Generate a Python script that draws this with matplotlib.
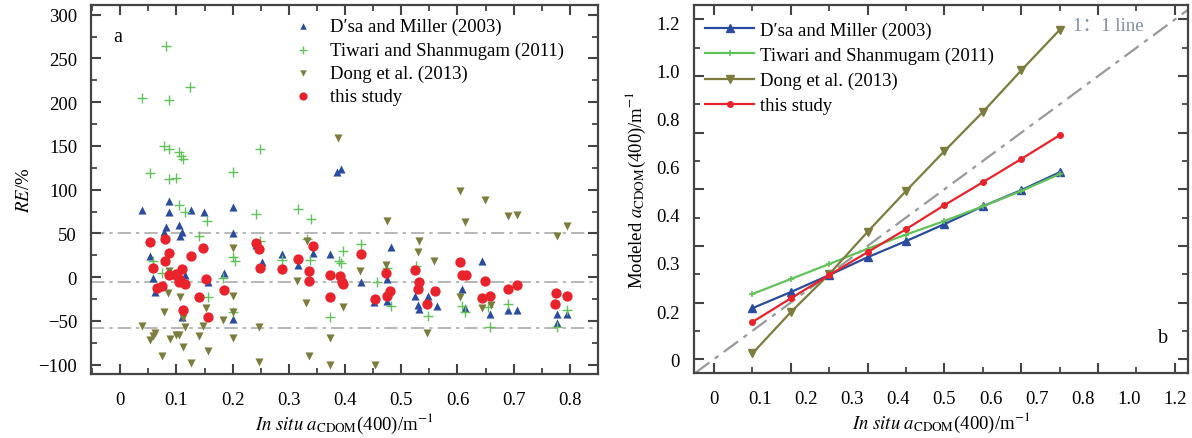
import numpy as np
import matplotlib
matplotlib.use("Agg")
import matplotlib.pyplot as plt
from matplotlib.ticker import MultipleLocator

plt.rcParams['font.family'] = ['Liberation Serif', 'DejaVu Serif']
plt.rcParams['mathtext.fontset'] = 'stix'

# ---------------- Panel a data: relative error (RE, %) vs in situ aCDOM(400)
dsa_x = [0.039, 0.087, 0.086, 0.126, 0.149, 0.200, 0.081, 0.078, 0.104, 0.110, 0.107, 0.200,
         0.053, 0.058, 0.062, 0.116, 0.157, 0.184, 0.200, 0.110, 0.241, 0.252, 0.288, 0.317,
         0.343, 0.373, 0.428, 0.482, 0.475, 0.452, 0.474, 0.524, 0.530, 0.532, 0.547, 0.564,
         0.608, 0.613, 0.643, 0.658, 0.690, 0.706, 0.777, 0.777, 0.795, 0.386, 0.392]
dsa_y = [77, 87, 75, 77, 74, 80, 57, 52, 60, 52, 47, 50,
         24, -1, -17, 2, -6, 5, -48, -45, 37, 17, 26, 14,
         28, 26, -5, 34, -2, -28, -27, -21, -32, -36, -21, -33,
         -13, -35, 19, -42, -37, -37, -52, -42, -42, 120, 124]

tiw_x = [0.082, 0.039, 0.087, 0.124, 0.078, 0.087, 0.105, 0.108, 0.111, 0.249, 0.053, 0.200,
         0.087, 0.100, 0.105, 0.116, 0.241, 0.317, 0.154, 0.141, 0.059, 0.074, 0.200, 0.204,
         0.157, 0.183, 0.200, 0.249, 0.288, 0.339, 0.332, 0.338, 0.396, 0.389, 0.393, 0.428,
         0.457, 0.475, 0.482, 0.373, 0.527, 0.547, 0.608, 0.613, 0.655, 0.658, 0.690, 0.777,
         0.795]
tiw_y = [264, 205, 203, 217, 150, 147, 143, 138, 135, 147, 119, 120,
         112, 113, 83, 74, 72, 78, 64, 47, 18, 5, 23, 19,
         -23, -1, -40, 41, 20, 67, 44, 20, 30, 18, 16, 38,
         -6, 11, -33, -46, 13, -44, -33, -40, -34, -57, -31, -57,
         -38]

dong_x = [0.039, 0.053, 0.059, 0.062, 0.074, 0.078, 0.085, 0.089, 0.099, 0.104, 0.107, 0.111,
          0.111, 0.116, 0.126, 0.141, 0.148, 0.153, 0.157, 0.183, 0.200, 0.200, 0.200, 0.200,
          0.247, 0.247, 0.087, 0.388, 0.604, 0.649, 0.613, 0.690, 0.706, 0.475, 0.532, 0.530,
          0.558, 0.332, 0.315, 0.331, 0.396, 0.373, 0.427, 0.473, 0.336, 0.373, 0.453, 0.546,
          0.643, 0.659, 0.777, 0.795, 0.604]
dong_y = [-56, -72, -67, -64, -90, -40, -18, -71, -66, -66, -23, -47,
          -80, -57, -98, -67, -56, -35, -84, -49, -21, -70, -40, 33,
          -57, -97, 7, 159, 98, 88, 63, 70, 71, 64, 41, 29,
          19, 41, -4, -30, -34, -69, 7, 14, -90, -100, -100, -64,
          -35, -32, 47, 58, -23]

this_x = [0.053, 0.059, 0.080, 0.087, 0.080, 0.087, 0.065, 0.074, 0.110, 0.101, 0.107, 0.116,
          0.126, 0.148, 0.153, 0.141, 0.111, 0.157, 0.185, 0.241, 0.247, 0.249, 0.288, 0.317,
          0.336, 0.336, 0.343, 0.373, 0.373, 0.391, 0.394, 0.396, 0.428, 0.453, 0.473, 0.474,
          0.480, 0.524, 0.532, 0.530, 0.546, 0.560, 0.604, 0.608, 0.615, 0.649, 0.643, 0.658,
          0.690, 0.706, 0.775, 0.773, 0.795, 0.104, 0.100]
this_y = [40, 10, 44, 28, 18, 2, -12, -10, 9, 1, -3, -8,
          24, 33, -2, -23, -37, -46, -15, 39, 32, 11, 9, 21,
          7, -4, 36, 2, -23, 1, -5, -8, 26, -25, 5, -21,
          -16, 8, -5, -14, -31, -16, 17, 3, 2, -4, -24, -21,
          -13, -9, -18, -31, -21, -6, 4]

ref_levels = [50, -6, -58]

# ---------------- Panel b data: modeled vs in situ aCDOM(400)
b_x = [0.1, 0.2, 0.3, 0.4, 0.5, 0.6, 0.7, 0.8, 0.9]
b_dsa = [0.180, 0.237, 0.297, 0.360, 0.417, 0.477, 0.540, 0.597, 0.660]
b_tiw = [0.230, 0.283, 0.336, 0.390, 0.440, 0.488, 0.540, 0.594, 0.654]
b_dong = [0.020, 0.166, 0.300, 0.450, 0.594, 0.735, 0.873, 1.020, 1.163]
b_this = [0.131, 0.215, 0.297, 0.378, 0.459, 0.544, 0.625, 0.707, 0.791]

b_xtick_labels = ['0', '0.1', '0.2', '0.3', '0.4', '0.5', '0.6', '0.7', '0.8', '1.0', '1.2']
b_ytick_labels = ['0', '0.2', '0.3', '0.4', '0.6', '0.8', '1.0', '1.2']

labels = ['D\u2032sa and Miller (2003)', 'Tiwari and Shanmugam (2011)',
          'Dong et al. (2013)', 'this study']

c_blue = '#2b4c9e'
c_green = '#62c25a'
c_olive = '#7c7c3e'
c_red = '#e8232b'

FS = 13.5
fig = plt.figure(figsize=(11.92, 4.39), dpi=100)
axa = fig.add_axes([0.0763, 0.1458, 0.4254, 0.8405])
axb = fig.add_axes([0.5822, 0.1480, 0.4144, 0.8390])

spine_c = '#444444'
for ax in (axa, axb):
    for s in ax.spines.values():
        s.set_color(spine_c)
        s.set_linewidth(1.6)
    ax.tick_params(which='both', direction='in', top=True, right=True, colors=spine_c,
                   labelcolor='black', labelsize=FS)
    ax.tick_params(which='major', length=7, width=1.5)
    ax.tick_params(which='minor', length=4, width=1.3)

# ---------- Panel a
for lv in ref_levels:
    axa.axhline(lv, color='#aaaaaa', lw=1.2, dashes=(8, 3, 2, 3), zorder=1)
axa.scatter(dsa_x, dsa_y, marker='^', s=34, color=c_blue, lw=0, zorder=3, label=labels[0])
axa.scatter(tiw_x, tiw_y, marker='+', s=45, color=c_green, lw=1.0, zorder=3, label=labels[1])
axa.scatter(dong_x, dong_y, marker='v', s=34, color=c_olive, lw=0, zorder=3, label=labels[2])
axa.scatter(this_x, this_y, marker='o', s=55, color=c_red, lw=0, zorder=4, label=labels[3])
axa.set_xlim(-0.052, 0.85)
axa.set_ylim(-110.6, 311)
axa.xaxis.set_minor_locator(MultipleLocator(0.05))
axa.yaxis.set_minor_locator(MultipleLocator(25))
axa.set_xticks(np.arange(0, 0.81, 0.1))
axa.set_xticklabels(['0', '0.1', '0.2', '0.3', '0.4', '0.5', '0.6', '0.7', '0.8'])
axa.set_yticks(np.arange(-100, 301, 50))
axa.set_yticklabels(['\u2212100', '\u221250', '0', '50', '100', '150', '200', '250', '300'])
axa.tick_params(axis='x', pad=12)
axa.tick_params(axis='y', pad=10)
axa.set_ylabel(r'$\it{RE}$/%', fontsize=FS, labelpad=4)
axa.set_xlabel(r'$\it{In\ situ}\ a_{\rm CDOM}$(400)/m$^{-1}$', fontsize=FS, labelpad=2)
axa.text(0.053, 0.916, 'a', transform=axa.transAxes, fontsize=FS + 1, va='center', ha='center')
axa.legend(loc='upper left', bbox_to_anchor=(0.36, 0.995), frameon=False, fontsize=FS,
           handletextpad=0.4, labelspacing=0.32, borderaxespad=0.2, markerscale=0.8)

# ---------- Panel b
axb.axline((0, 0), (1, 1), color='#999999', lw=1.6, dashes=(8, 3, 2, 3), zorder=1)
axb.plot(b_x, b_dsa, '-^', color=c_blue, lw=1.6, ms=6, label=labels[0], zorder=3)
axb.plot(b_x, b_tiw, '-+', color=c_green, lw=1.6, ms=5, mew=1.2, label=labels[1], zorder=3)
axb.plot(b_x, b_dong, '-v', color=c_olive, lw=1.6, ms=6, label=labels[2], zorder=3)
axb.plot(b_x, b_this, '-o', color=c_red, lw=1.6, ms=4, label=labels[3], zorder=3)
axb.set_xlim(-0.052, 1.234)
axb.set_ylim(-0.049, 1.252)
axb.set_xticks(np.arange(0, 1.21, 0.2))
axb.set_xticks(np.arange(0.1, 1.2, 0.2), minor=True)
axb.set_yticks(np.arange(0, 1.21, 0.2))
axb.set_yticks(np.arange(0.1, 1.2, 0.2), minor=True)
axb.tick_params(labelbottom=False, labelleft=False)

secx = axb.secondary_xaxis('bottom')
secx.set_xticks(np.linspace(0, 1.2, len(b_xtick_labels)))
secx.set_xticklabels(b_xtick_labels)
secx.tick_params(length=0, labelsize=FS, pad=12)
secx.spines['bottom'].set_visible(False)
secy = axb.secondary_yaxis('left')
secy.set_yticks(np.linspace(0, 1.19, len(b_ytick_labels)))
secy.set_yticklabels(b_ytick_labels)
secy.tick_params(length=0, labelsize=FS, pad=10)
secy.spines['left'].set_visible(False)

secx.set_xlabel(r'$\it{In\ situ}\ a_{\rm CDOM}$(400)/m$^{-1}$', fontsize=FS, labelpad=2)
secy.set_ylabel(r'Modeled $a_{\rm CDOM}$(400)/m$^{-1}$', fontsize=FS, labelpad=6)
axb.text(0.935, 1.18, '1\uff1a1 line', color='#7f8fa0', fontsize=FS,
         family=['Liberation Serif', 'Noto Sans CJK SC'], va='center')
axb.text(0.949, 0.097, 'b', transform=axb.transAxes, fontsize=FS + 1, va='center', ha='center')
axb.legend(loc='upper left', bbox_to_anchor=(0.0, 0.985), frameon=False, fontsize=FS,
           handlelength=2.6, handletextpad=0.3, labelspacing=0.42, borderaxespad=0.2)

fig.savefig('out.png', dpi=100)
